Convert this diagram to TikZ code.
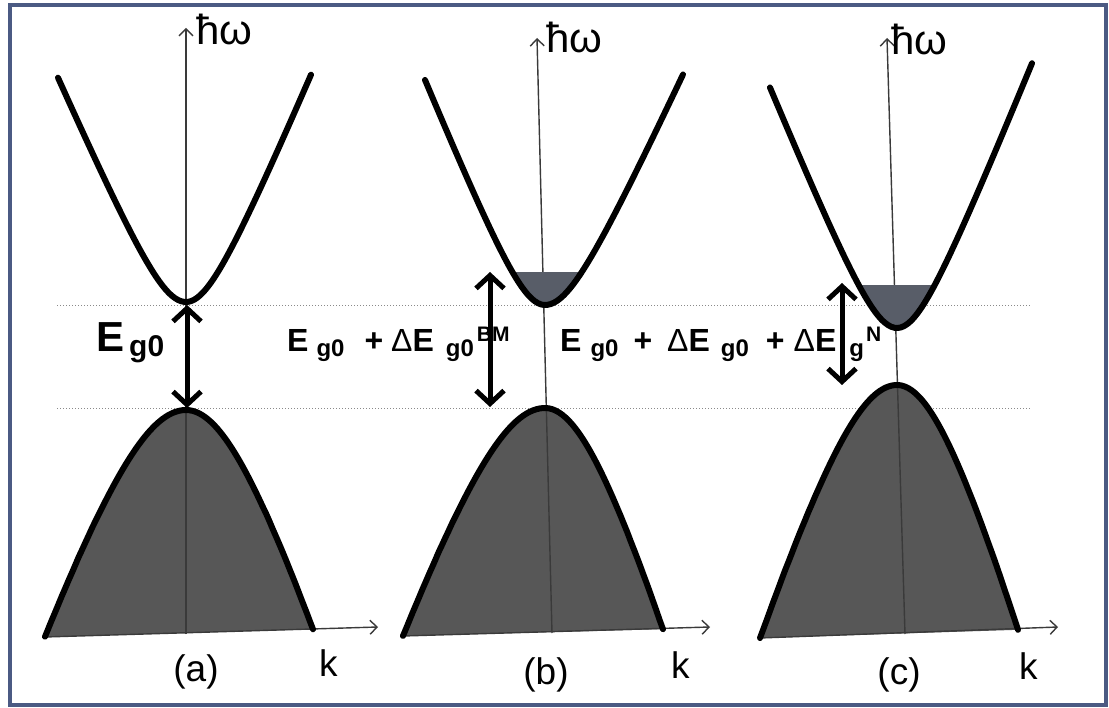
\documentclass[tikz,border=0pt]{standalone}
\usepackage{fontspec}
\setmainfont{Liberation Sans}
\usetikzlibrary{arrows.meta}
\definecolor{framec}{HTML}{4B5A83}
\definecolor{valfill}{HTML}{575757}
\definecolor{confill}{HTML}{585D68}
\definecolor{axisc}{HTML}{3A3A3A}
\definecolor{dotc}{HTML}{8A8A8A}
% conduction band: vertex (#1,#2), slopes #3 (left) #5 (right), half widths #4 #6
\newcommand\condcurve[6]{plot[domain=-#4:#6, samples=81, smooth, variable=\t]
  ({#1+\t},{#2-10*(veclen(8.1,((\t<0)?#3:#5)*\t/10)-8.1)})}
% valence band: peak (#1,#2)
\newcommand\valcurve[6]{plot[domain=-#4:#6, samples=81, smooth, variable=\t]
  ({#1+\t},{#2+10*(veclen(25,((\t<0)?#3:#5)*\t/10)-25)})}
\newcommand\lsub[2]{\raisebox{-5pt}{\fontsize{#1}{#1}\selectfont #2}}
\newcommand\lsup[2]{\raisebox{10pt}{\fontsize{#1}{#1}\selectfont #2}}
\tikzset{
  bandline/.style={line width=6pt, black, line cap=round, line join=round},
  axisline/.style={line width=1.4pt, axisc, -{Straight Barb[length=7pt,width=14pt]}},
  gaparrow/.style={line width=5pt, black, {Straight Barb[length=13pt,width=28pt]}-{Straight Barb[length=13pt,width=28pt]}},
  levelline/.style={dotc, line width=1pt, dotted},
  axlabel/.style={font=\fontsize{42}{42}\selectfont, inner sep=0pt, anchor=base west},
  panellabel/.style={font=\fontsize{37}{37}\selectfont, inner sep=0pt, anchor=base},
  eqlabel/.style={font=\fontsize{32}{32}\selectfont\bfseries, inner sep=0pt, anchor=base west}
}
\begin{document}
\begin{tikzpicture}[x=1pt,y=-1pt]
\useasboundingbox (0,0) rectangle (1109,708);
\fill[white] (0,0) rectangle (1109,708);
\draw[framec, line width=4.5pt] (10,5) rectangle (1106,705);

% level lines
\coordinate (l1a) at (57,305.5); \coordinate (l1b) at (1030,305.5);
\coordinate (l2a) at (57,409); \coordinate (l2b) at (1030,409);
\draw[levelline] (l1a) -- (l1b);
\draw[levelline] (l2a) -- (l2b);

% ---------- valence fills
\fill[valfill] \valcurve{186}{410}{2.88}{141}{3.13}{127} -- cycle;
\fill[valfill] \valcurve{545}{408}{2.87}{142}{3.39}{118} -- cycle;
\fill[valfill] \valcurve{897}{385}{3.19}{137}{3.53}{121} -- cycle;

% ---------- axes
\coordinate (ya0) at (186,634); \coordinate (ya1) at (186,28);
\coordinate (yb0) at (552,633); \coordinate (yb1) at (537,38);
\coordinate (yc0) at (905,634); \coordinate (yc1) at (887,38);
\draw[axisline] (ya0) -- (ya1);
\draw[axisline] (yb0) -- (yb1);
\draw[axisline] (yc0) -- (yc1);
\coordinate (ka0) at (45,637); \coordinate (ka1) at (378,627);
\coordinate (kb0) at (403,636); \coordinate (kb1) at (710,627);
\coordinate (kc0) at (760,638); \coordinate (kc1) at (1058,627);
\draw[axisline] (ka0) -- (ka1);
\draw[axisline] (kb0) -- (kb1);
\draw[axisline] (kc0) -- (kc1);

% ---------- conduction fills
\fill[confill] \condcurve{545}{305}{2.46}{32.6}{2.18}{36.8} -- cycle;
\fill[confill] \condcurve{897}{328}{2.47}{38}{2.47}{38} -- cycle;

% ---------- band curves
\draw[bandline] \condcurve{186}{302}{2.30}{128}{2.38}{125};
\draw[bandline] \condcurve{545}{305}{2.46}{120}{2.18}{138};
\draw[bandline] \condcurve{897}{328}{2.45}{127}{2.49}{135};
\draw[bandline] \valcurve{186}{410}{2.88}{141}{3.13}{127};
\draw[bandline] \valcurve{545}{408}{2.87}{142}{3.39}{118};
\draw[bandline] \valcurve{897}{385}{3.19}{137}{3.53}{121};

% ---------- gap arrows
\coordinate (ga0) at (187,305); \coordinate (ga1) at (187,408);
\coordinate (gb0) at (490,272); \coordinate (gb1) at (490,407);
\coordinate (gc0) at (842,283); \coordinate (gc1) at (842,385);

% ---------- labels
\node[eqlabel, font=\fontsize{42}{42}\selectfont\bfseries] (eqa) at (96,352) {E\hspace{5pt}\lsub{30}{g0}};
\node[eqlabel] (eqb) at (287,352) {E\hspace{8pt}\lsub{24}{g0}\hspace{20pt}+\hspace{8pt}{\mdseries Δ}E\hspace{12pt}\lsub{24}{g0}\hspace{3pt}\lsup{21}{BM}};
\node[eqlabel] (eqc) at (560,352) {E\hspace{9pt}\lsub{24}{g0}\hspace{15pt}+\hspace{15pt}{\mdseries Δ}E\hspace{11pt}\lsub{24}{g0}\hspace{17pt}+\hspace{9pt}{\mdseries Δ}E\hspace{13pt}\lsub{24}{g}\hspace{2pt}\lsup{21}{N}};

\draw[gaparrow] (ga0) -- (ga1);
\draw[gaparrow] (gb0) -- (gb1);
\draw[gaparrow] (gc0) -- (gc1);

\node[axlabel] (wa) at (196,45) {ħω};
\node[axlabel] (wb) at (546,53) {ħω};
\node[axlabel] (wc) at (891,55) {ħω};

\node[panellabel] (pa) at (196,681) {(a)};
\node[panellabel] (pb) at (546,684) {(b)};
\node[panellabel] (pc) at (899,684) {(c)};
\node[panellabel, anchor=base west] (ka) at (319,676) {k};
\node[panellabel, anchor=base west] (kb) at (671,678) {k};
\node[panellabel, anchor=base west] (kc) at (1019,679) {k};
\end{tikzpicture}
\end{document}
